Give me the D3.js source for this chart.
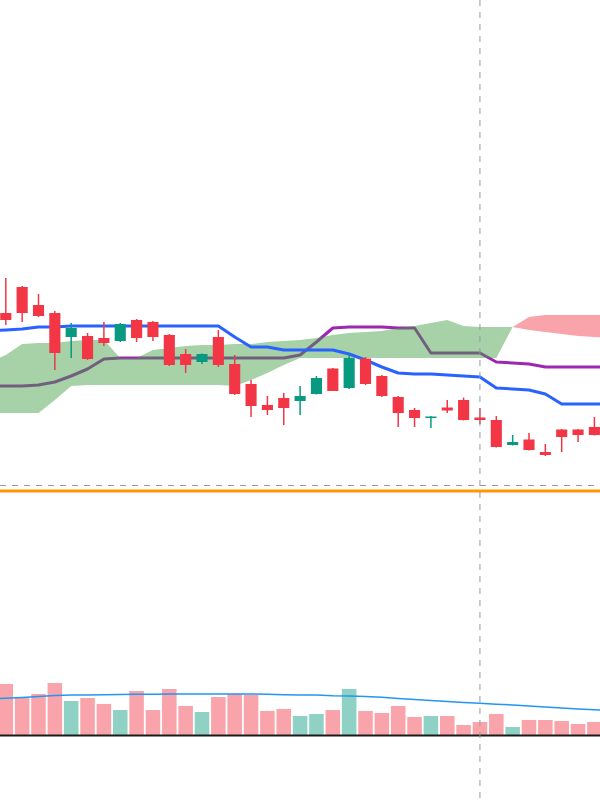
<!DOCTYPE html>
<html><head><meta charset="utf-8">
<script src="https://cdn.jsdelivr.net/npm/d3@7/dist/d3.min.js"></script>
<style>html,body{margin:0;padding:0;background:#fff;}svg{display:block;}</style>
</head><body>
<svg id="chart" width="600" height="800"></svg>
<script>
// ---- data (bar index 0..36) ----
const barIndex = d3.range(0, 37);
const open  = [687,713,695,687,663,664,662,659,680,678,665,646,638,663,636,616,595,602,599,606,631.5,612,641.5,624,603,590,582,592.5,600,582.5,580,555,560.5,548,570.5,570.5,573];
const high  = [722,714,706,689,677,667,678,677,681,679,666,651,646.5,670,645,620,604,607,614,624,632,646,643,625,604,592,584,600,602.5,592,584,565,567,556,571,571,583];
const low   = [675,678,683,630,642,640,654,658,658,659,634,627,636,633,605,583,585,575,585,605.5,609,611,615,603,573,573,572,587,579.5,576,552.5,554.5,549.5,544,548,558,564.5];
const close = [680,687,684,647,672,641,657,676,662,663,635,635,646,635,606,594,590,592,604,622,609,642,616,604,587,582,583.5,589.5,580,580,553,558,550,545,563,565,565];
const volume = [51,37,41,52,34,37,31,25,44,25,46,29,23,38,41,40,24,26,19,21,25,46,24,22,29,18,19,19,10,13,21,8,15,15,14,11,13];
// indicator lines, index -1..37
const lineIndex = d3.range(-1, 38);
const conversionLine = [669,670,671,673,673,674,674,674,674,674,674,674,674,674,674,663,653,653,650,650,650,650,646,640,633,627,626,626,625,624,623,612,611,610,606,596,596,596,596];
const baseLine = [614,614,614,615,618,624,631,641,642,642,642,642,642,642,642,642,642,642,642,645,658,672,673,673,673,672,672,647,647,647,647,638,637,636,633,633,633,633,633];
const spanA = [638,645,656,657,657,659,660,660,642,642,650,652,654,655,655,656,656,658,659,660,662,665,667,668,669,672,674,677,680,674,673,673,673,670,668,666,664,663,662];
const spanB = [587,587,587,587,600,614,615,615,615,615,615,615,615,615,615,614,620,627,635,642,642,642,642,642,642,642,642,642,642,642,642,642,673,683,685,685,685,685,685];
const volumeMA = [36,36.7,37.5,38.5,39.5,40,40,40.3,40.5,40.7,40.7,41,41,41,41,41,41,40.7,40.3,40,40,39.3,39,38.5,37.7,36.5,35.5,34.5,33.5,32.5,31.7,30.8,30,29,28,27,26,25.3,24.5];
const crosshairIndex = 29;
const crosshairPrice = 515;
const priceLevel = 509;

// ---- scales ----
const W = 600, H = 800;
const svg = d3.select('#chart');
const x = d3.scaleLinear().domain([0, 36]).range([5.8, 594.4]);
const step = x(1) - x(0);
const y = d3.scaleLinear().domain([1000, 200]).range([0, 800]);
const yv = d3.scaleLinear().domain([0, 80]).range([735, 655]);

const up = '#089981', down = '#F23645';
const lineData = lineIndex.map((k, i) => ({k, conv: conversionLine[i], base: baseLine[i], a: spanA[i], b: spanB[i], vma: volumeMA[i]}));

// clip to plot
svg.append('defs').append('clipPath').attr('id','plot').append('rect').attr('x',0).attr('y',0).attr('width',W).attr('height',H);
const g = svg.append('g').attr('clip-path','url(#plot)');
const defs = svg.select('defs');

// volume bars
g.append('g').selectAll('rect').data(barIndex).join('rect')
  .attr('x', k => x(k) - step*0.445)
  .attr('width', step*0.89)
  .attr('y', k => yv(volume[k]))
  .attr('height', k => yv(0) - yv(volume[k]))
  .attr('fill', k => close[k] >= open[k] ? up : down)
  .attr('fill-opacity', 0.45);

// volume MA
g.append('path').datum(lineData)
  .attr('d', d3.line().x(d => x(d.k)).y(d => yv(d.vma)))
  .attr('fill','none').attr('stroke','#2196F3').attr('stroke-width',1.5);

// volume baseline
g.append('line').attr('x1',0).attr('x2',W).attr('y1',yv(0)+0.5).attr('y2',yv(0)+0.5)
  .attr('stroke','#1a1a1a').attr('stroke-width',2.2);

// base line (under cloud)
g.append('path').datum(lineData)
  .attr('d', d3.line().x(d => x(d.k)).y(d => y(d.base)))
  .attr('fill','none').attr('stroke','#9C27B0').attr('stroke-width',3).attr('stroke-linejoin','round');

// cloud
defs.append('clipPath').attr('id','aboveA').append('path').datum(lineData)
  .attr('d', d3.area().x(d => x(d.k)).y0(0).y1(d => y(d.a)));
defs.append('clipPath').attr('id','belowA').append('path').datum(lineData)
  .attr('d', d3.area().x(d => x(d.k)).y0(d => y(d.a)).y1(H));
g.append('path').datum(lineData)
  .attr('d', d3.area().x(d => x(d.k)).y0(d => y(d.b)).y1(0))
  .attr('clip-path','url(#belowA)')
  .attr('fill','rgb(67,160,71)').attr('fill-opacity',0.47);
g.append('path').datum(lineData)
  .attr('d', d3.area().x(d => x(d.k)).y0(d => y(d.b)).y1(H))
  .attr('clip-path','url(#aboveA)')
  .attr('fill','rgb(242,54,69)').attr('fill-opacity',0.45);

// conversion line
g.append('path').datum(lineData)
  .attr('d', d3.line().x(d => x(d.k)).y(d => y(d.conv)))
  .attr('fill','none').attr('stroke','#2962FF').attr('stroke-width',3).attr('stroke-linejoin','round');

// candles
const cg = g.append('g');
cg.selectAll('line').data(barIndex).join('line')
  .attr('x1', k => x(k)).attr('x2', k => x(k))
  .attr('y1', k => y(high[k])).attr('y2', k => y(low[k]))
  .attr('stroke', k => close[k] >= open[k] ? up : down).attr('stroke-width',1.5);
cg.selectAll('rect').data(barIndex).join('rect')
  .attr('x', k => x(k) - step*0.34)
  .attr('width', step*0.68)
  .attr('y', k => y(Math.max(open[k], close[k])))
  .attr('height', k => Math.max(1.5, Math.abs(y(open[k]) - y(close[k]))))
  .attr('fill', k => close[k] >= open[k] ? up : down);

// price level line
g.append('line').attr('x1',0).attr('x2',W).attr('y1',y(priceLevel)).attr('y2',y(priceLevel))
  .attr('stroke','#FF9800').attr('stroke-width',3);

// crosshair
g.append('line').attr('x1',0).attr('x2',W).attr('y1',y(crosshairPrice)+0.5).attr('y2',y(crosshairPrice)+0.5)
  .attr('stroke','#9598A1').attr('stroke-width',1).attr('stroke-dasharray','6,6');
g.append('line').attr('x1',x(crosshairIndex)).attr('x2',x(crosshairIndex)).attr('y1',0).attr('y2',H)
  .attr('stroke','#9598A1').attr('stroke-width',1).attr('stroke-dasharray','6,6');
</script>
</body></html>
